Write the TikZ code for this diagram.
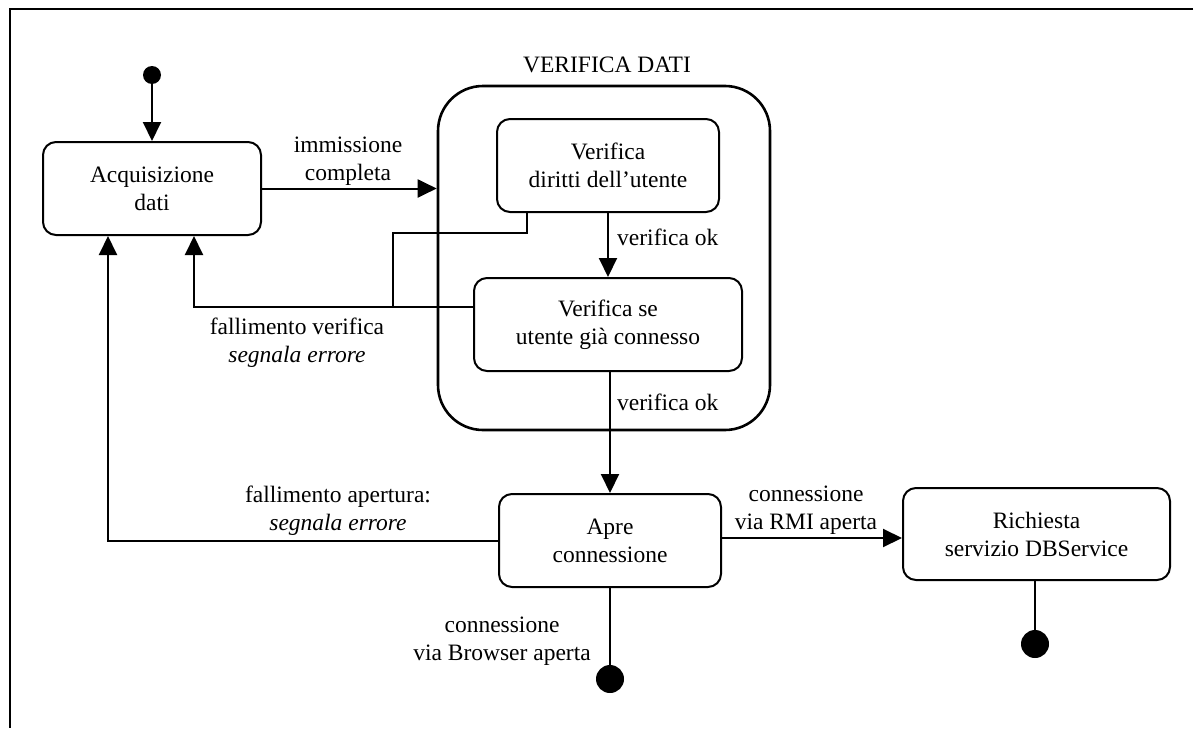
\documentclass[tikz,border=0pt]{standalone}
\usepackage{fontspec}
\setmainfont{Liberation Serif}
\usetikzlibrary{arrows.meta}
\begin{document}
\begin{tikzpicture}[x=1pt,y=-1pt,
  every node/.style={font=\fontsize{23.5}{28}\selectfont},
  state/.style={draw, line width=2pt, rounded corners=13pt, align=center,
                inner sep=0pt, minimum height=93pt},
  lbl/.style={align=center, inner sep=0pt},
  conn/.style={line width=2pt},
  arr/.style={conn, -{Triangle[length=19pt,width=18pt]}},
  startdot/.style={circle, fill=black, inner sep=0pt, minimum size=18pt},
  enddot/.style={circle, fill=black, inner sep=0pt, minimum size=28pt}]
\useasboundingbox (0,0) rectangle (1199,728);

% outer frame (top and left edges)
\draw[line width=2pt] (1193,9) -- (10,9) -- (10,728);

% composite state
\node[draw, line width=2.6pt, rounded corners=45pt, minimum width=332pt,
      minimum height=344pt, inner sep=0pt] (comp) at (604,258) {};
\node[lbl] (comptitle) at (607,65) {VERIFICA DATI};

% states
\node[startdot] (init) at (152,75) {};
\node[state, minimum width=218pt] (acq) at (152,188.5) {Acquisizione\\dati};
\node[state, minimum width=222pt] (dir) at (608,165.5) {Verifica\\diritti dell'utente};
\node[state, minimum width=268pt] (vs) at (608,324.5) {Verifica se\\utente già connesso};
\node[state, minimum width=222pt] (apre) at (610,540.5) {Apre\\connessione};
\node[state, minimum width=267pt, minimum height=92pt] (ric) at (1036.5,534) {Richiesta\\servizio DBService};
\node[enddot] (fin1) at (610,679) {};
\node[enddot] (fin2) at (1035,644) {};

% routing points
\coordinate (c1) at (527,233);
\coordinate (j1) at (393,307);
\coordinate (c2) at (194,307);
\coordinate (c3) at (108,540.5);
\coordinate (c4) at (800,538);

% transitions
\draw[arr] (init) -- (acq.north);
\draw[arr] (acq.east) -- (acq.east -| comp.west);
\node[lbl] (limm) at (348,161) {immissione\\completa};

\draw[conn] (c1 |- dir.south) -- (c1) -- (c1 -| j1) -- (j1);
\draw[arr] (vs.west |- j1) -- (c2) -- (c2 |- acq.south);
\node[lbl] (lfv) at (297,343) {fallimento verifica\\\textit{segnala errore}};

\draw[arr] (dir.south) -- (vs.north);
\node[lbl, anchor=west] (lok1) at (617,237) {verifica ok};

\draw[arr] (vs.south -| apre.north) -- (apre.north);
\node[lbl, anchor=west] (lok2) at (617,402) {verifica ok};

\draw[arr] (apre.west) -- (c3) -- (c3 |- acq.south);
\node[lbl] (lfa) at (338,511) {fallimento apertura:\\\textit{segnala errore}};

\draw[arr] (apre.east |- c4) -- (ric.west |- c4);
\node[lbl] (lrmi) at (806,510) {connessione\\via RMI aperta};

\draw[conn] (apre.south) -- (fin1);
\node[lbl] (lbrw) at (502,641) {connessione\\via Browser aperta};

\draw[conn] (ric.south -| fin2) -- (fin2);
\end{tikzpicture}
\end{document}
